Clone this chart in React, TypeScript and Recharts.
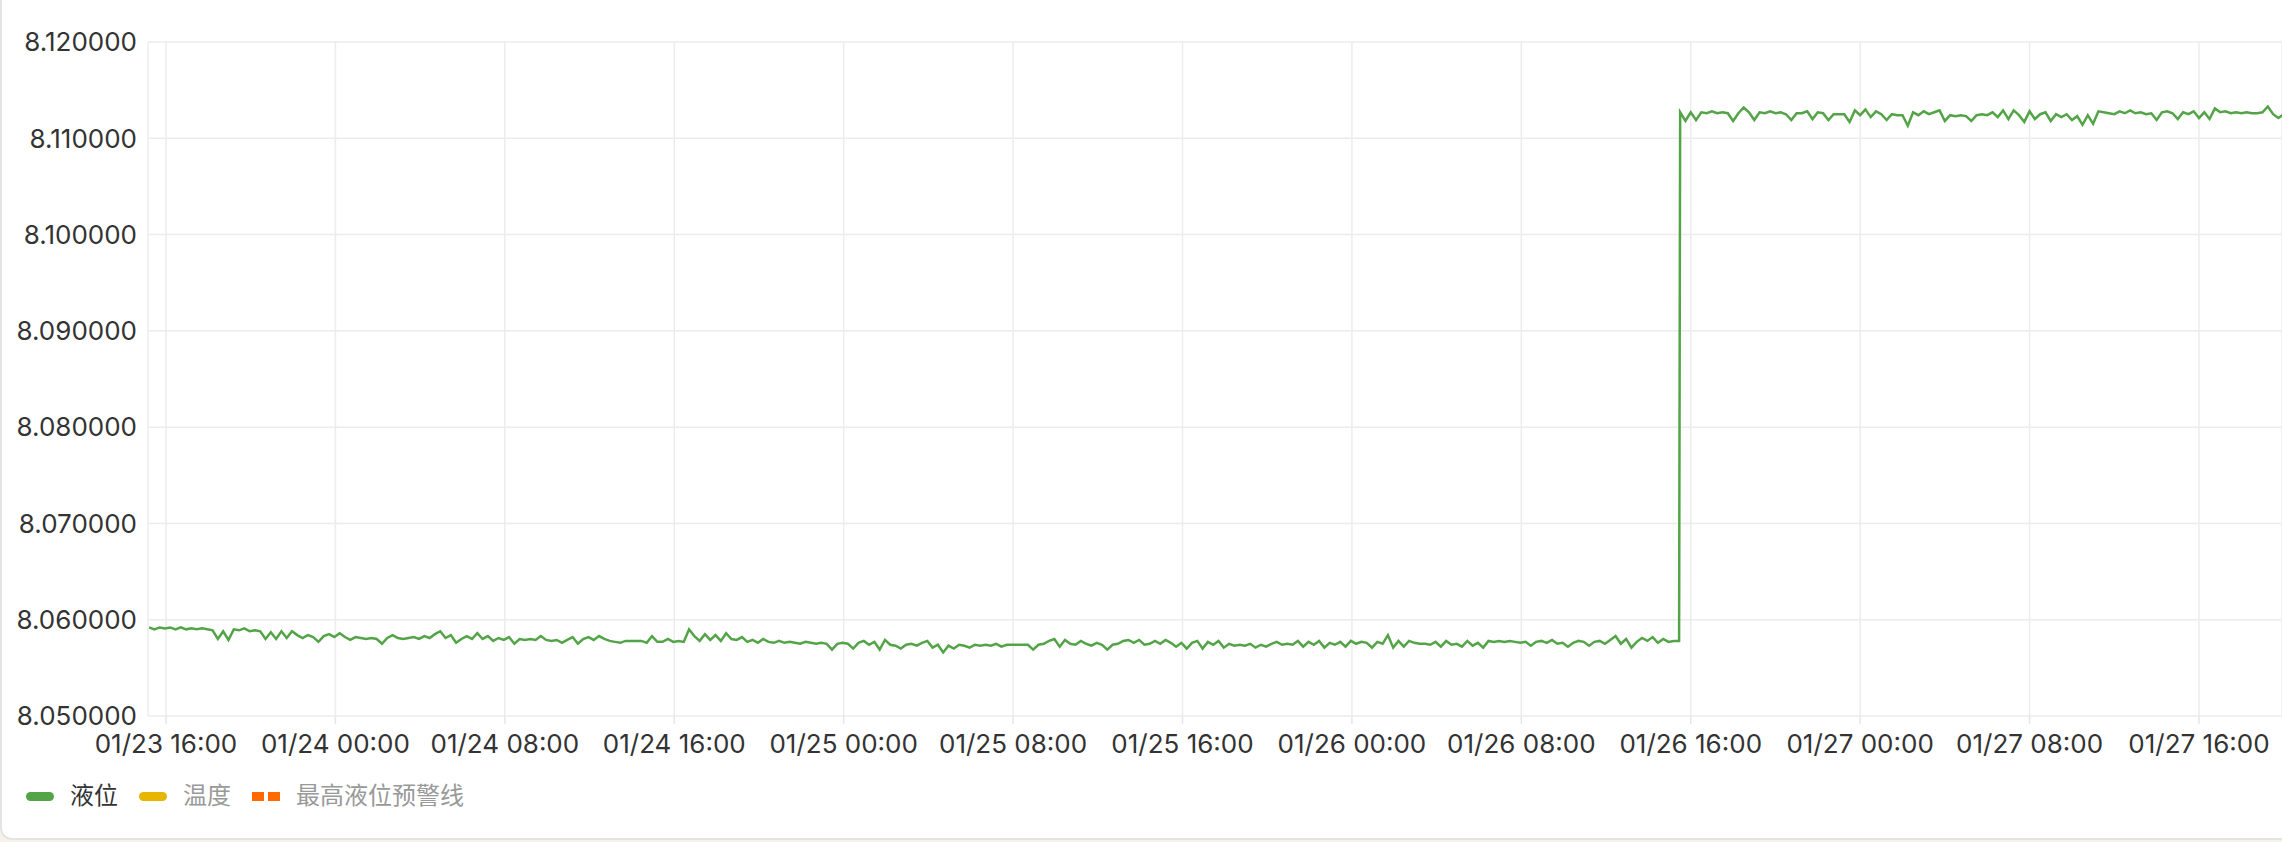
import { LineChart, Line, XAxis, YAxis, CartesianGrid } from 'recharts';

// 液位 readings, one every 15 min, starting 01/23 15:12 (hours counted from 01/23 00:00)
const LOW_START = 15.2;
const HIGH_START = 87.5; // 01/26 15:30, right after the jump
const STEP = 0.25;

const low23 = [
  8.0592, 8.0590, 8.0592, 8.0591, 8.0592, 8.0590, 8.0592, 8.0590, 8.0591, 8.0590,
  8.0591, 8.0590, 8.0589, 8.0580, 8.0588, 8.0579, 8.0590, 8.0589, 8.0591, 8.0588,
  8.0589, 8.0588, 8.0580, 8.0587, 8.0580, 8.0588, 8.0581, 8.0588, 8.0584, 8.0581,
  8.0584, 8.0582, 8.0577, 8.0583, 8.0585, 8.0582,
];

const low24 = [
  8.0586, 8.0582, 8.0579, 8.0582, 8.0581, 8.0580, 8.0581, 8.0580, 8.0575, 8.0581,
  8.0584, 8.0581, 8.0580, 8.0581, 8.0582, 8.0580, 8.0583, 8.0581, 8.0585, 8.0588,
  8.0581, 8.0584, 8.0576, 8.0580, 8.0583, 8.0580, 8.0586, 8.0580, 8.0583, 8.0578,
  8.0581, 8.0579, 8.0582, 8.0575, 8.0580, 8.0579, 8.0580, 8.0579, 8.0583, 8.0579,
  8.0578, 8.0579, 8.0576, 8.0579, 8.0582, 8.0575, 8.0580, 8.0582, 8.0579, 8.0583,
  8.0580, 8.0578, 8.0577, 8.0576, 8.0578, 8.0578, 8.0578, 8.0578, 8.0576, 8.0583, 8.0577,
  8.0577, 8.0580, 8.0577, 8.0578, 8.0577, 8.0590, 8.0583, 8.0578, 8.0585, 8.0579,
  8.0584, 8.0578, 8.0586, 8.0580, 8.0579, 8.0582, 8.0577, 8.0579, 8.0576, 8.0580,
  8.0577, 8.0576, 8.0578, 8.0576, 8.0577, 8.0576, 8.0575, 8.0577, 8.0576, 8.0575,
  8.0576, 8.0575, 8.0569, 8.0575, 8.0576,
];

const low25 = [
  8.0575, 8.0570, 8.0576, 8.0578, 8.0574, 8.0577, 8.0569, 8.0579, 8.0574, 8.0573,
  8.0570, 8.0574, 8.0575, 8.0573, 8.0576, 8.0578, 8.0571, 8.0574, 8.0566, 8.0573,
  8.0570, 8.0574, 8.0573, 8.0571, 8.0574, 8.0573, 8.0574, 8.0573, 8.0575, 8.0572,
  8.0574, 8.0574, 8.0574, 8.0574, 8.0574, 8.0569, 8.0574, 8.0575, 8.0578, 8.0580,
  8.0572, 8.0579, 8.0575, 8.0574, 8.0578, 8.0575, 8.0573, 8.0576, 8.0574, 8.0569,
  8.0574, 8.0575, 8.0578, 8.0579, 8.0576, 8.0579, 8.0574, 8.0575, 8.0578, 8.0575, 8.0579,
  8.0576, 8.0572, 8.0576, 8.0570, 8.0576, 8.0578, 8.0570, 8.0577, 8.0574, 8.0578,
  8.0571, 8.0575, 8.0573, 8.0574, 8.0573, 8.0575, 8.0571, 8.0574, 8.0572, 8.0575,
  8.0577, 8.0574, 8.0575, 8.0574, 8.0578, 8.0572, 8.0577, 8.0574, 8.0578, 8.0571,
  8.0576, 8.0574, 8.0577, 8.0572, 8.0578,
];

const low26 = [
  8.0575, 8.0577, 8.0576, 8.0571, 8.0577, 8.0575, 8.0584, 8.0571, 8.0578, 8.0572,
  8.0578, 8.0576, 8.0575, 8.0575, 8.0574, 8.0577, 8.0572, 8.0578, 8.0574, 8.0575,
  8.0572, 8.0578, 8.0573, 8.0576, 8.0571, 8.0578, 8.0577, 8.0578, 8.0577, 8.0578,
  8.0577, 8.0576, 8.0577, 8.0573, 8.0577, 8.0578, 8.0576, 8.0579, 8.0575, 8.0576,
  8.0572, 8.0576, 8.0578, 8.0577, 8.0573, 8.0577, 8.0578, 8.0575, 8.0579, 8.0583,
  8.0575, 8.0580, 8.0571, 8.0577, 8.0581, 8.0578, 8.0582, 8.0576, 8.0580, 8.0577, 8.0578, 8.0578,
];

const high26 = [
  8.1127, 8.1118, 8.1127, 8.1119, 8.1127, 8.1126, 8.1128, 8.1126, 8.1127, 8.1126,
  8.1118, 8.1126, 8.1132, 8.1127, 8.1119, 8.1127, 8.1126, 8.1128, 8.1126, 8.1127,
  8.1125, 8.1119, 8.1126, 8.1126, 8.1128, 8.1120, 8.1127, 8.1126, 8.1119, 8.1125,
  8.1125, 8.1125, 8.1117, 8.1129, 8.1124,
];

const high27 = [
  8.1130, 8.1122, 8.1128, 8.1125, 8.1119, 8.1125, 8.1124, 8.1124, 8.1113, 8.1127,
  8.1124, 8.1128, 8.1125, 8.1127, 8.1129, 8.1118, 8.1124, 8.1123, 8.1124, 8.1123,
  8.1118, 8.1124, 8.1125, 8.1124, 8.1127, 8.1122, 8.1129, 8.1120, 8.1129, 8.1124,
  8.1117, 8.1128, 8.1120, 8.1125, 8.1127, 8.1118, 8.1125, 8.1122, 8.1125, 8.1119,
  8.1123, 8.1114, 8.1124, 8.1115, 8.1128, 8.1127, 8.1126, 8.1125, 8.1128, 8.1126,
  8.1129, 8.1126, 8.1127, 8.1125, 8.1126, 8.1119, 8.1127, 8.1128, 8.1126, 8.1120,
  8.1127, 8.1125, 8.1128, 8.1121, 8.1127, 8.1120, 8.1131, 8.1127, 8.1128, 8.1126,
  8.1127, 8.1126, 8.1127, 8.1126, 8.1126, 8.1127, 8.1133, 8.1125, 8.1121, 8.1125, 8.1126,
];

const xTicks = [16, 24, 32, 40, 48, 56, 64, 72, 80, 88, 96, 104, 112];
const yTicks = [8.05, 8.06, 8.07, 8.08, 8.09, 8.1, 8.11, 8.12];

const legendItems = [
  { name: '液位', color: '#52a447', kind: 'line', active: true },
  { name: '温度', color: '#e6b600', kind: 'line', active: false },
  { name: '最高液位预警线', color: '#ff6a00', kind: 'dash', active: false },
];

const FONT = 'Inter, "Noto Sans CJK SC", sans-serif';

const lowValues = [...low23, ...low24, ...low25, ...low26];
const highValues = [...high26, ...high27];
const data = [
  ...lowValues.map((v, i) => ({ hour: LOW_START + i * STEP, value: v })),
  ...highValues.map((v, i) => ({ hour: HIGH_START + i * STEP, value: v })),
];

const pad = (n: number) => (n < 10 ? '0' + n : String(n));
const formatHour = (h: number) => {
  const day = 23 + Math.floor(h / 24);
  return `01/${day} ${pad(Math.round(h % 24))}:00`;
};

export default function App() {
  return (
    <div style={{ position: 'fixed', inset: 0, background: '#f6f2ea', overflow: 'hidden', fontFamily: FONT }}>
      <div
        style={{
          position: 'absolute', left: 0, top: -20, width: 2400, height: 856,
          background: '#fff', border: '2px solid #e4e4e4', borderRadius: 12,
        }}
      />
      <div style={{ position: 'absolute', left: 0, top: 0 }}>
        <LineChart width={2282} height={780} data={data} margin={{ top: 42, right: 0, left: 0, bottom: 0 }}>
          <CartesianGrid stroke="#ececec" strokeWidth={1.5} />
          <XAxis
            dataKey="hour"
            type="number"
            domain={[15.15, 115.92]}
            allowDataOverflow
            ticks={xTicks}
            interval={0}
            tickFormatter={formatHour}
            axisLine={false}
            tickLine={{ stroke: '#e6e6e6', strokeWidth: 1.5 }}
            tickSize={8}
            tickMargin={11}
            height={64}
            tick={{ fill: '#333', fontSize: 26, fontFamily: FONT }}
          />
          <YAxis
            type="number"
            domain={[8.05, 8.12]}
            ticks={yTicks}
            interval={0}
            tickFormatter={(v: number) => v.toFixed(6)}
            axisLine={false}
            tickLine={false}
            tickSize={0}
            tickMargin={11}
            width={148}
            tick={{ fill: '#333', fontSize: 26, fontFamily: FONT }}
          />
          <Line
            type="linear"
            dataKey="value"
            stroke="#52a447"
            strokeWidth={2.5}
            dot={false}
            isAnimationActive={false}
          />
        </LineChart>
      </div>
      <div style={{ position: 'absolute', left: 26, top: 780, height: 32, display: 'flex', alignItems: 'center' }}>
        {legendItems.map((item) => (
          <div key={item.name} style={{ display: 'flex', alignItems: 'center', marginRight: 21 }}>
            {item.kind === 'line' ? (
              <span style={{ width: 28, height: 9, borderRadius: 5, background: item.color, display: 'inline-block' }} />
            ) : (
              <span style={{ width: 28, height: 9, display: 'inline-flex', justifyContent: 'space-between' }}>
                <span style={{ width: 12, height: 9, background: item.color }} />
                <span style={{ width: 12, height: 9, background: item.color }} />
              </span>
            )}
            <span style={{ marginLeft: 16, fontSize: 24, color: item.active ? '#333' : '#999', lineHeight: '32px' }}>
              {item.name}
            </span>
          </div>
        ))}
      </div>
    </div>
  );
}
